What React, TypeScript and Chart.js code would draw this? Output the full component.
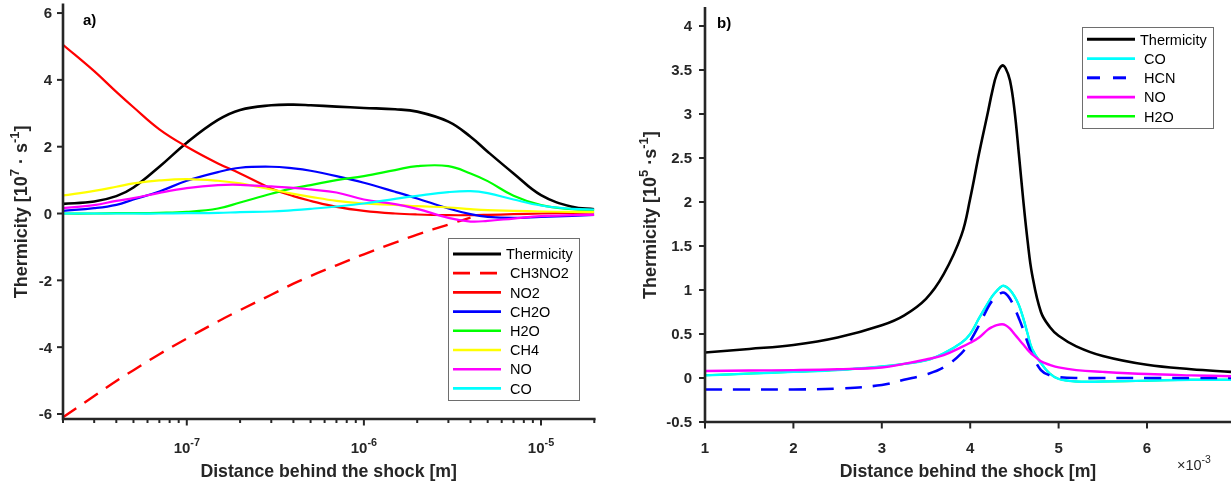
import { useEffect, useRef } from "react";
import { Chart, registerables } from "chart.js";

Chart.register(...registerables);

const W = 1231;
const H = 483;
const FONT = '"Liberation Sans", Arial, Helvetica, sans-serif';
const AXIS_COLOR = "#262626";

// ---------- Panel a) data (distance in m, thermicity in 1e7 s^-1) ----------
const distanceA = [2e-8, 3e-8, 4e-8, 5e-8, 7e-8, 1e-7, 1.5e-7, 2e-7, 3e-7, 4e-7, 5e-7, 7e-7, 1e-6, 1.5e-6, 2e-6, 3e-6, 4e-6, 5e-6, 7e-6, 1e-5, 1.5e-5, 2e-5];
const thermicityA = [0.29, 0.36, 0.52, 0.78, 1.4, 2.12, 2.8, 3.1, 3.24, 3.26, 3.24, 3.2, 3.16, 3.12, 3.05, 2.75, 2.3, 1.85, 1.2, 0.55, 0.2, 0.13];
const ch3no2A = [-6.1, -5.46, -5.01, -4.69, -4.21, -3.74, -3.23, -2.89, -2.43, -2.1, -1.87, -1.55, -1.22, -0.87, -0.63, -0.33, -0.12];
const no2A = [5.05, 4.26, 3.64, 3.18, 2.52, 2.0, 1.5, 1.2, 0.75, 0.52, 0.38, 0.2, 0.08, 0.0, -0.03, -0.05, -0.05, -0.04, -0.02, 0.0, 0.02, 0.03];
const ch2oA = [0.08, 0.16, 0.26, 0.42, 0.66, 0.98, 1.24, 1.37, 1.4, 1.35, 1.28, 1.12, 0.92, 0.65, 0.45, 0.15, -0.02, -0.1, -0.13, -0.1, -0.07, -0.04];
const h2oA = [0.0, 0.0, 0.01, 0.01, 0.02, 0.05, 0.15, 0.33, 0.59, 0.76, 0.85, 1.0, 1.12, 1.3, 1.42, 1.42, 1.2, 0.97, 0.53, 0.25, 0.13, 0.1];
const ch4A = [0.54, 0.68, 0.8, 0.9, 0.99, 1.03, 0.98, 0.9, 0.72, 0.59, 0.5, 0.38, 0.3, 0.26, 0.22, 0.18, 0.13, 0.1, 0.08, 0.06, 0.05, 0.05];
const noA = [0.16, 0.25, 0.38, 0.46, 0.62, 0.76, 0.85, 0.86, 0.81, 0.77, 0.72, 0.63, 0.42, 0.28, 0.14, -0.13, -0.24, -0.22, -0.15, -0.08, -0.05, -0.04];
const coA = [0.0, 0.0, 0.0, 0.0, 0.0, 0.01, 0.02, 0.04, 0.06, 0.1, 0.14, 0.21, 0.3, 0.44, 0.53, 0.64, 0.67, 0.61, 0.42, 0.24, 0.14, 0.12];

// ---------- Panel b) data (distance in 1e-3 m, thermicity in 1e5 s^-1) ----------
const distanceB = [1.0, 1.5, 2.0, 2.5, 3.0, 3.25, 3.5, 3.7, 3.9, 4.0, 4.1, 4.2, 4.25, 4.3, 4.36, 4.4, 4.45, 4.5, 4.55, 4.6, 4.65, 4.7, 4.8, 4.9, 5.0, 5.2, 5.5, 6.0, 6.5, 6.95];
const thermicityB = [0.29, 0.33, 0.375, 0.46, 0.6, 0.71, 0.9, 1.18, 1.62, 2.04, 2.55, 3.02, 3.26, 3.45, 3.55, 3.52, 3.38, 3.05, 2.55, 2.02, 1.55, 1.18, 0.75, 0.58, 0.48, 0.36, 0.25, 0.15, 0.1, 0.07];
const coB = [0.03, 0.05, 0.07, 0.09, 0.13, 0.16, 0.2, 0.28, 0.4, 0.5, 0.68, 0.85, 0.93, 0.99, 1.045, 1.04, 1.0, 0.93, 0.83, 0.68, 0.5, 0.33, 0.17, 0.05, -0.01, -0.04, -0.04, -0.03, -0.02, -0.02];
const hcnB = [-0.13, -0.13, -0.13, -0.12, -0.08, -0.02, 0.04, 0.12, 0.28, 0.42, 0.6, 0.8, 0.88, 0.93, 0.97, 0.96, 0.9, 0.8, 0.68, 0.55, 0.4, 0.27, 0.09, 0.03, 0.01, 0.0, 0.0, 0.0, 0.0, 0.0];
const noB = [0.08, 0.085, 0.09, 0.1, 0.12, 0.16, 0.21, 0.26, 0.35, 0.4, 0.46, 0.55, 0.58, 0.6, 0.61, 0.6, 0.56, 0.5, 0.44, 0.38, 0.32, 0.27, 0.19, 0.15, 0.12, 0.09, 0.07, 0.045, 0.03, 0.02];
const h2oB = [0.03, 0.05, 0.07, 0.09, 0.13, 0.16, 0.2, 0.28, 0.4, 0.5, 0.68, 0.85, 0.93, 0.99, 1.045, 1.04, 1.0, 0.93, 0.83, 0.68, 0.5, 0.33, 0.17, 0.05, -0.01, -0.04, -0.04, -0.03, -0.02, -0.02];

// ---------- ticks ----------
const yTicksA = [-6, -4, -2, 0, 2, 4, 6];
const xDecadesA = [-7, -6, -5];
const yTicksB = [-0.5, 0, 0.5, 1, 1.5, 2, 2.5, 3, 3.5, 4];
const xTicksB = [1, 2, 3, 4, 5, 6];

type Part = { t: string; sup?: boolean };

function drawRich(ctx: CanvasRenderingContext2D, parts: Part[], x: number, y: number, size: number, weight: string, align: string) {
  const supSize = size * 0.72;
  const widths = parts.map((p) => {
    ctx.font = `${weight} ${p.sup ? supSize : size}px ${FONT}`;
    return ctx.measureText(p.t).width;
  });
  const total = widths.reduce((a, b) => a + b, 0);
  let cx = align === "center" ? x - total / 2 : align === "right" ? x - total : x;
  ctx.textAlign = "left";
  ctx.textBaseline = "alphabetic";
  parts.forEach((p, i) => {
    ctx.font = `${weight} ${p.sup ? supSize : size}px ${FONT}`;
    ctx.fillText(p.t, cx, p.sup ? y - size * 0.45 : y);
    cx += widths[i];
  });
}

function pts(xs: number[], ys: number[]) {
  return ys.map((y, i) => ({ x: xs[i], y }));
}

function series(label: string, xs: number[], ys: number[], color: string, width: number, dash: number[], legendDash: number[], order: number) {
  return {
    label,
    data: pts(xs, ys),
    borderColor: color,
    backgroundColor: color,
    borderWidth: width,
    borderDash: dash,
    legendDash,
    pointRadius: 0,
    fill: false,
    tension: 0.4,
    order,
  } as any;
}

interface Spec {
  yTicks: number[];
  xMajor: { v: number; parts: Part[] }[];
  xMinor: number[];
  tag: string;
  tagX: number;
  tagY: number;
  yTitle: Part[];
  yTitleX: number;
  yLabelRight: number;
  xTitle: string;
  legend: { x: number; y: number; w: number; h: number; l0: number; l1: number; tx: number; row0: number; step: number };
  extra?: (ctx: CanvasRenderingContext2D) => void;
}

function makePlugin(id: string, spec: Spec) {
  return {
    id,
    afterDraw(chart: any) {
      const ctx: CanvasRenderingContext2D = chart.ctx;
      const xs = chart.scales.x;
      const ys = chart.scales.y;
      const ca = chart.chartArea;
      ctx.save();
      ctx.fillStyle = AXIS_COLOR;
      ctx.strokeStyle = AXIS_COLOR;

      // y ticks
      ctx.lineWidth = 2;
      spec.yTicks.forEach((v) => {
        const py = ys.getPixelForValue(v);
        ctx.beginPath();
        ctx.moveTo(ca.left - 6, py);
        ctx.lineTo(ca.left, py);
        ctx.stroke();
        drawRich(ctx, [{ t: String(v) }], spec.yLabelRight, py + 5.4, 15, "bold", "right");
      });
      // x minor ticks
      spec.xMinor.forEach((v) => {
        const px = xs.getPixelForValue(v);
        ctx.beginPath();
        ctx.moveTo(px, ca.bottom);
        ctx.lineTo(px, ca.bottom + 4);
        ctx.stroke();
      });
      // x major ticks
      spec.xMajor.forEach((m) => {
        const px = xs.getPixelForValue(m.v);
        ctx.beginPath();
        ctx.moveTo(px, ca.bottom);
        ctx.lineTo(px, ca.bottom + 6.5);
        ctx.stroke();
        drawRich(ctx, m.parts, px, 452.5, 15, "bold", "center");
      });

      // axis lines
      ctx.lineWidth = 2.6;
      ctx.lineCap = "square";
      ctx.beginPath();
      ctx.moveTo(ca.left, ca.top);
      ctx.lineTo(ca.left, ca.bottom);
      ctx.lineTo(ca.right, ca.bottom);
      ctx.stroke();
      ctx.lineCap = "butt";

      // axis titles
      const cx = (ca.left + ca.right) / 2;
      drawRich(ctx, [{ t: spec.xTitle }], cx, 477, 17.7, "bold", "center");
      ctx.save();
      ctx.translate(spec.yTitleX, (ca.top + ca.bottom) / 2);
      ctx.rotate(-Math.PI / 2);
      drawRich(ctx, spec.yTitle, 0, 6.4, 18, "bold", "center");
      ctx.restore();

      // panel tag
      ctx.fillStyle = "#000";
      drawRich(ctx, [{ t: spec.tag }], spec.tagX, spec.tagY, 15, "bold", "left");

      // legend
      const lg = spec.legend;
      ctx.fillStyle = "#fff";
      ctx.fillRect(lg.x, lg.y, lg.w, lg.h);
      ctx.strokeStyle = "#6e6e6e";
      ctx.lineWidth = 1;
      ctx.strokeRect(lg.x + 0.5, lg.y + 0.5, lg.w, lg.h);
      chart.data.datasets.forEach((ds: any, i: number) => {
        const ry = lg.row0 + i * lg.step;
        ctx.strokeStyle = ds.borderColor;
        ctx.lineWidth = ds.borderWidth + 0.4;
        ctx.setLineDash(ds.legendDash || []);
        ctx.beginPath();
        ctx.moveTo(lg.l0, ry);
        ctx.lineTo(lg.l1, ry);
        ctx.stroke();
        ctx.setLineDash([]);
        ctx.fillStyle = "#000";
        drawRich(ctx, [{ t: ds.label }], lg.tx - (i === 0 ? 4 : 0), ry + 5.2, 14.5, "normal", "left");
      });

      if (spec.extra) spec.extra(ctx);
      ctx.restore();
    },
  };
}

function sup(base: string, exp: string): Part[] {
  return [{ t: base }, { t: exp, sup: true }];
}

export default function App() {
  const refA = useRef<HTMLCanvasElement>(null);
  const refB = useRef<HTMLCanvasElement>(null);

  useEffect(() => {
    // ---------- panel a ----------
    const minorA: number[] = [];
    [-8, -7, -6, -5].forEach((d) => {
      for (let k = 2; k <= 9; k++) {
        const v = k * Math.pow(10, d);
        if (v >= 2e-8 * 0.999 && v <= 2e-5 * 1.001) minorA.push(v);
      }
    });
    const dsA = [
      series("Thermicity", distanceA, thermicityA, "#000000", 2.6, [], [], 8),
      series("CH3NO2", distanceA, ch3no2A, "#ff0000", 2.4, [16, 10], [17, 10], 7),
      series("NO2", distanceA, no2A, "#ff0000", 2.2, [], [], 6),
      series("CH2O", distanceA, ch2oA, "#0000ff", 2.2, [], [], 5),
      series("H2O", distanceA, h2oA, "#00ff00", 2.2, [], [], 4),
      series("CH4", distanceA, ch4A, "#ffff00", 2.2, [], [], 3),
      series("NO", distanceA, noA, "#ff00ff", 2.2, [], [], 2),
      series("CO", distanceA, coA, "#00ffff", 2.2, [], [], 1),
    ];
    const specA: Spec = {
      yTicks: yTicksA,
      xMajor: xDecadesA.map((d) => ({ v: Math.pow(10, d), parts: sup("10", String(d)) })),
      xMinor: minorA,
      tag: "a)",
      tagX: 83,
      tagY: 25,
      yTitle: [{ t: "Thermicity [10" }, { t: "7", sup: true }, { t: " \u00b7 s" }, { t: "-1", sup: true }, { t: "]" }],
      yTitleX: 21,
      yLabelRight: 52,
      xTitle: "Distance behind the shock [m]",
      legend: { x: 448, y: 238, w: 131, h: 162, l0: 453, l1: 501, tx: 510, row0: 254, step: 19.2 },
    };
    const chartA = new Chart(refA.current as HTMLCanvasElement, {
      type: "line",
      data: { datasets: dsA },
      options: {
        responsive: false,
        animation: false,
        devicePixelRatio: 1,
        layout: { padding: { left: 63, right: W - 594.3, top: 4.7, bottom: H - 419 } },
        plugins: { legend: { display: false }, tooltip: { enabled: false } },
        scales: {
          x: { type: "logarithmic", min: 2e-8, max: 2e-5, display: false },
          y: { type: "linear", min: -6.15, max: 6.25, display: false },
        },
      } as any,
      plugins: [makePlugin("axesA", specA)],
    });

    // ---------- panel b ----------
    const dsB = [
      series("Thermicity", distanceB, thermicityB, "#000000", 2.6, [], [], 5),
      series("CO", distanceB, coB, "#00ffff", 2.4, [], [], 4),
      series("HCN", distanceB, hcnB, "#0000ff", 2.6, [17, 11], [13, 13], 3),
      series("NO", distanceB, noB, "#ff00ff", 2.4, [], [], 2),
      series("H2O", distanceB, h2oB, "#00ff00", 2.0, [], [], 10),
    ];
    const specB: Spec = {
      yTicks: yTicksB,
      xMajor: xTicksB.map((v) => ({ v, parts: [{ t: String(v) }] })),
      xMinor: [],
      tag: "b)",
      tagX: 717,
      tagY: 28,
      yTitle: [{ t: "Thermicity [10" }, { t: "5", sup: true }, { t: " \u00b7s" }, { t: "-1", sup: true }, { t: "]" }],
      yTitleX: 650,
      yLabelRight: 692,
      xTitle: "Distance behind the shock [m]",
      legend: { x: 1082, y: 27, w: 131, h: 101, l0: 1087, l1: 1135, tx: 1144, row0: 39.3, step: 19.25 },
      extra: (ctx) => {
        ctx.fillStyle = AXIS_COLOR;
        drawRich(ctx, [{ t: "\u00d710" }, { t: "-3", sup: true }], 1177, 470, 14.5, "normal", "left");
      },
    };
    const chartB = new Chart(refB.current as HTMLCanvasElement, {
      type: "line",
      data: { datasets: dsB },
      options: {
        responsive: false,
        animation: false,
        devicePixelRatio: 1,
        layout: { padding: { left: 705, right: 0, top: 8.4, bottom: H - 422 } },
        plugins: { legend: { display: false }, tooltip: { enabled: false } },
        scales: {
          x: { type: "linear", min: 1, max: 6.95, display: false },
          y: { type: "linear", min: -0.5, max: 4.2, display: false },
        },
      } as any,
      plugins: [makePlugin("axesB", specB)],
    });

    return () => {
      chartA.destroy();
      chartB.destroy();
    };
  }, []);

  const cstyle: any = { position: "absolute", left: 0, top: 0, width: W, height: H };
  return (
    <div style={{ position: "fixed", left: 0, top: 0, width: W, height: H, background: "#ffffff", overflow: "hidden" }}>
      <canvas ref={refA} width={W} height={H} style={cstyle} />
      <canvas ref={refB} width={W} height={H} style={cstyle} />
    </div>
  );
}
